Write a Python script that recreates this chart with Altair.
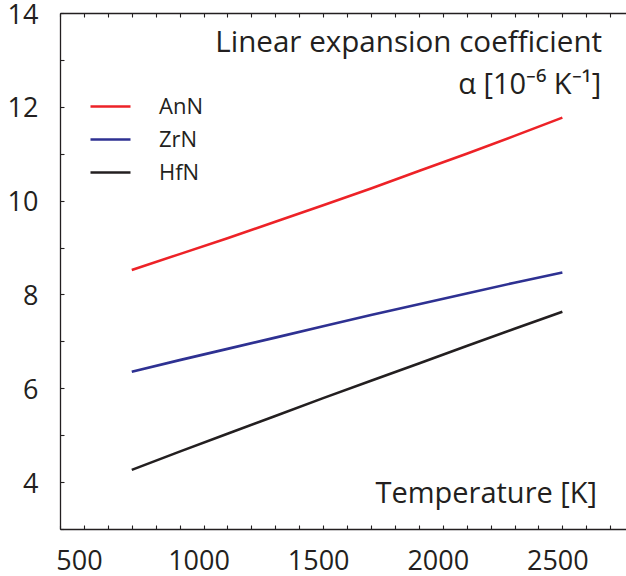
import altair as alt
import pandas as pd

# ---- data ----
temps = [700, 900, 1100, 1300, 1500, 1700, 1900, 2100, 2300, 2500]
ann_vals = [8.52, 8.86, 9.20, 9.55, 9.90, 10.26, 10.63, 11.00, 11.38, 11.77]
zrn_vals = [6.35, 6.60, 6.84, 7.08, 7.32, 7.56, 7.79, 8.02, 8.25, 8.47]
hfn_vals = [4.26, 4.65, 5.03, 5.41, 5.79, 6.16, 6.53, 6.90, 7.27, 7.63]
series = ["AnN", "ZrN", "HfN"]
colors = ["#ed2227", "#2e3192", "#231f20"]

x_domain = [400, 2766]
y_domain = [3, 14]
x_tick_count = 24     # minor ticks every 100 K
y_tick_count = 22     # minor ticks every 0.5
x_label_step = 500
y_label_step = 2

ann_text = ["Linear expansion coefficient", "\u03b1 [10\u207b\u2076 K\u207b\u00b9]", "Temperature [K]"]
ann_x = [2666, 2662, 2645]
ann_y = [13.17, 12.27, 3.555]
ann_size = [29.6, 29, 29]

FONT = "Open Sans"
INK = "#231f20"
W, H = 566, 516

rows = []
for name, vals in zip(series, [ann_vals, zrn_vals, hfn_vals]):
    for t, v in zip(temps, vals):
        rows.append({"T": t, "alpha": v, "material": name})
df = pd.DataFrame(rows)
adf = pd.DataFrame({"T": ann_x, "alpha": ann_y, "text": ann_text, "size": ann_size})

xscale = alt.Scale(domain=x_domain, nice=False, zero=False)
yscale = alt.Scale(domain=y_domain, nice=False, zero=False)

yaxis = alt.Axis(
    tickCount=y_tick_count, format="d", title=None,
    labelExpr=f"datum.value % {y_label_step} === 0 ? datum.label : ''",
    ticks=False, tickSize=0, labelPadding=22, labelFontSize=27, labelOffset=2,
    labelFont=FONT, labelColor=INK, domainColor=INK, domainWidth=1.3,
    grid=True, gridColor=INK, gridWidth=1.1, gridOpacity=1,
    gridDash=[4, 3000], labelFlush=False, labelOverlap=False)

lines = alt.Chart(df).mark_line(strokeWidth=2.6).encode(
    x=alt.X("T:Q", scale=xscale, axis=alt.Axis(
        tickCount=x_tick_count, format="d", title=None,
        labelExpr=f"datum.value % {x_label_step} === 0 && datum.value > 400 ? datum.label : ''",
        ticks=False, tickSize=0, labelPadding=19, labelFontSize=27,
        labelOffset=-5,
        labelFont=FONT, labelColor=INK, domainColor=INK, domainWidth=1.3,
        grid=True, gridColor=INK, gridWidth=1.1, gridOpacity=1,
        gridDash=[4, H - 8, 4, 3000], labelFlush=False, labelOverlap=False)),
    y=alt.Y("alpha:Q", scale=yscale, axis=yaxis),
    color=alt.Color("material:N", scale=alt.Scale(domain=series, range=colors),
                    legend=alt.Legend(
                        title=None, orient="none", legendX=39, legendY=82,
                        padding=0, symbolType="M-2,0H2", symbolSize=400,
                        symbolStrokeWidth=2.6, labelFontSize=22, labelFont=FONT,
                        labelColor=INK, labelOffset=37, rowPadding=10)),
    order=alt.Order("T:Q"),
)

texts = alt.Chart(adf).mark_text(
    align="right", baseline="alphabetic", font=FONT, color=INK
).encode(
    x=alt.X("T:Q", scale=xscale, axis=alt.Axis(
        orient="top", labels=False, ticks=False, grid=False, title=None,
        domain=True, domainColor=INK, domainWidth=1.3)),
    y=alt.Y("alpha:Q", scale=yscale, axis=yaxis),
    text="text:N",
    size=alt.Size("size:Q", scale=None, legend=None),
)

chart = alt.layer(lines, texts).resolve_axis(x="independent").properties(
    width=W, height=H,
    padding={"left": 60, "top": 13, "right": 0, "bottom": 47},
    autosize=alt.AutoSizeParams(type="none"),
).configure_view(stroke=None).configure(background="white")

chart.save("out.html", embed_options={"renderer": "svg", "actions": False})
